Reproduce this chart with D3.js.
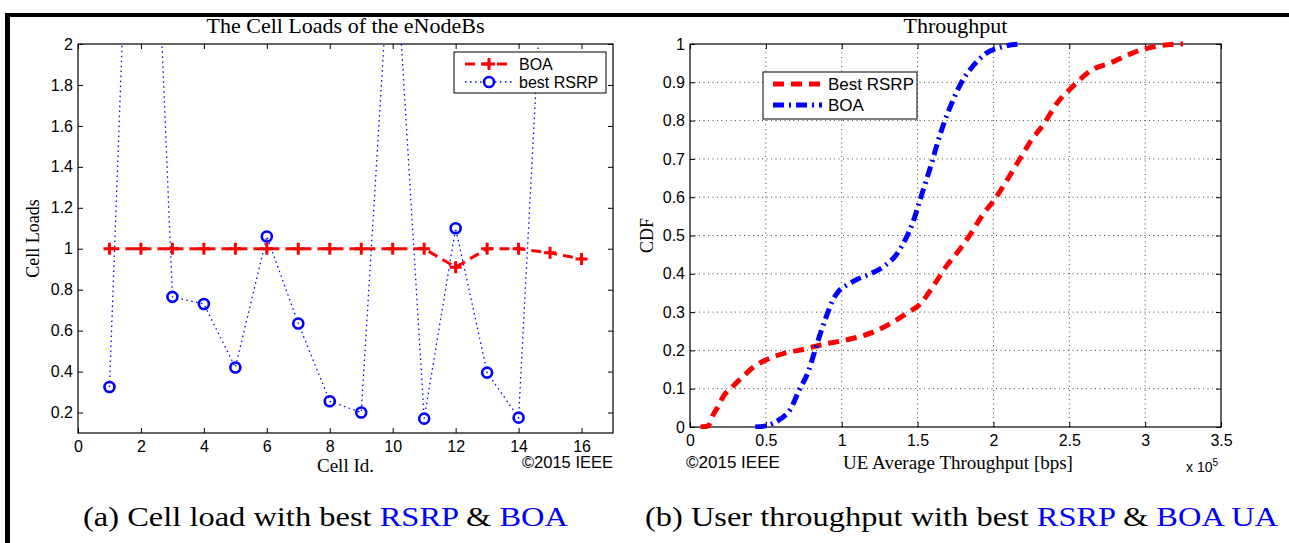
<!DOCTYPE html>
<html><head><meta charset="utf-8">
<script src="https://cdn.jsdelivr.net/npm/d3@7"></script>
<style>
body{margin:0;background:#fff}
svg{display:block}
</style></head><body>
<svg id="fig" width="1289" height="543"></svg>
<script>
// ---- Panel (a): cell load of each eNodeB ----
const cellIds  = [1,2,3,4,5,6,7,8,9,10,11,12,13,14,15,16];
const loadBOA  = [1,1,1,1,1,1,1,1,1,1,1,0.91,1,1,0.98,0.95];
const loadRSRP = [0.325,4.5,0.765,0.73,0.42,1.06,0.635,0.255,0.2,2.7,0.17,1.1,0.395,0.175,3.1,3.2];
const cellTicks = [0,2,4,6,8,10,12,14,16];
const loadTicks = [0.2,0.4,0.6,0.8,1,1.2,1.4,1.6,1.8,2];

// ---- Panel (b): CDF of UE average throughput (x in units of 1e5 bps) ----
const rsrpThr = [0.07,0.12,0.15,0.18,0.22,0.28,0.35,0.42,0.5,0.62,0.75,0.88,1.0,1.12,1.22,1.32,1.43,1.52,1.6,1.69,1.78,1.86,1.93,2.0,2.09,2.17,2.25,2.33,2.42,2.52,2.64,2.78,2.92,3.05,3.15,3.25];
const rsrpCdf = [0,0.003,0.03,0.05,0.08,0.105,0.132,0.157,0.175,0.192,0.203,0.216,0.225,0.236,0.25,0.27,0.297,0.322,0.366,0.42,0.465,0.51,0.555,0.59,0.645,0.697,0.749,0.79,0.846,0.888,0.93,0.952,0.977,0.992,0.998,1.0];
const boaThr  = [0.43,0.5,0.55,0.6,0.66,0.72,0.78,0.82,0.86,0.9,0.94,0.98,1.03,1.1,1.19,1.28,1.36,1.42,1.47,1.51,1.55,1.59,1.63,1.68,1.73,1.79,1.86,1.95,2.05,2.12,2.17];
const boaCdf  = [0,0.003,0.01,0.022,0.045,0.097,0.145,0.195,0.245,0.29,0.33,0.355,0.37,0.385,0.4,0.42,0.45,0.49,0.535,0.585,0.635,0.685,0.74,0.8,0.85,0.9,0.94,0.975,0.992,0.998,1.0];
const thrTicks = [0,0.5,1,1.5,2,2.5,3,3.5];
const cdfTicks = [0,0.1,0.2,0.3,0.4,0.5,0.6,0.7,0.8,0.9,1];

const RED = "#ff0000", BLUE = "#0000ff";
const serif = "'Liberation Serif','Times New Roman',serif";
const sans  = "'Liberation Sans',Arial,sans-serif";

const svg = d3.select("#fig");

// page frame (top rule and left rule)
svg.append("rect").attr("x",5).attr("y",13).attr("width",1284).attr("height",4).attr("fill","#000");
svg.append("rect").attr("x",5).attr("y",13).attr("width",5).attr("height",530).attr("fill","#000");

// boxed axes with inward ticks on all four sides
function boxAxes(g, x, y, xTicks, yTicks) {
  const [x0,x1] = x.range(), [y0,y1] = y.range();
  const fmt = d => String(d);
  const b = g.append("g").attr("transform",`translate(0,${y0})`)
    .call(d3.axisBottom(x).tickValues(xTicks).tickFormat(fmt).tickSizeInner(-5).tickSizeOuter(0).tickPadding(8));
  const l = g.append("g").attr("transform",`translate(${x0},0)`)
    .call(d3.axisLeft(y).tickValues(yTicks).tickFormat(fmt).tickSizeInner(-5).tickSizeOuter(0).tickPadding(5));
  g.append("g").attr("transform",`translate(0,${y1})`)
    .call(d3.axisTop(x).tickValues(xTicks).tickFormat("").tickSizeInner(-5).tickSizeOuter(0));
  g.append("g").attr("transform",`translate(${x1},0)`)
    .call(d3.axisRight(y).tickValues(yTicks).tickFormat("").tickSizeInner(-5).tickSizeOuter(0));
  g.selectAll(".domain").remove();
  g.selectAll(".tick line").attr("stroke","#000").attr("stroke-width",1);
  g.selectAll(".tick text").attr("font-family",sans).attr("font-size",16).attr("fill","#000");
  g.append("rect").attr("x",x0).attr("y",y1).attr("width",x1-x0).attr("height",y0-y1)
    .attr("fill","none").attr("stroke","#000").attr("stroke-width",1.2);
}

// ================= Panel (a) =================
const ga = svg.append("g");
const xa = d3.scaleLinear().domain([0,17]).range([78,613]);
const ya = d3.scaleLinear().domain([0.1,2]).range([433,44]);

svg.append("clipPath").attr("id","clipA").append("rect")
  .attr("x",78).attr("y",44).attr("width",535).attr("height",389);

const dataA = svg.append("g").attr("clip-path","url(#clipA)");
const lineA = d3.line().x(d => xa(d[0])).y(d => ya(d[1]));
const rsrpPts = cellIds.map((c,i) => [c, loadRSRP[i]]);
const boaPts  = cellIds.map((c,i) => [c, loadBOA[i]]);

dataA.append("path").attr("d", lineA(rsrpPts)).attr("fill","none")
  .attr("stroke",BLUE).attr("stroke-width",1.3).attr("stroke-dasharray","1.5,3.5");
dataA.selectAll("circle.rsrp").data(rsrpPts).join("circle").attr("class","rsrp")
  .attr("cx",d => xa(d[0])).attr("cy",d => ya(d[1])).attr("r",5)
  .attr("fill","none").attr("stroke",BLUE).attr("stroke-width",2.6);

dataA.append("path").attr("d", lineA(boaPts)).attr("fill","none")
  .attr("stroke",RED).attr("stroke-width",3).attr("stroke-dasharray","10,6");
const plus = "M-6,0H6M0,-6V6";
dataA.selectAll("path.plus").data(boaPts).join("path").attr("class","plus")
  .attr("d",plus).attr("transform",d => `translate(${xa(d[0])},${ya(d[1])})`)
  .attr("stroke",RED).attr("stroke-width",3);

boxAxes(ga, xa, ya, cellTicks, loadTicks);

// legend (a)
const la = svg.append("g");
la.append("rect").attr("x",454).attr("y",52).attr("width",152).attr("height",41)
  .attr("fill","#fff").attr("stroke","#000").attr("stroke-width",1);
la.append("line").attr("x1",465).attr("x2",513).attr("y1",64).attr("y2",64)
  .attr("stroke",RED).attr("stroke-width",3).attr("stroke-dasharray","10,6");
la.append("path").attr("d",plus).attr("transform","translate(489,64)").attr("stroke",RED).attr("stroke-width",3);
la.append("line").attr("x1",465).attr("x2",513).attr("y1",82).attr("y2",82)
  .attr("stroke",BLUE).attr("stroke-width",1.3).attr("stroke-dasharray","1.5,3.5");
la.append("circle").attr("cx",489).attr("cy",82).attr("r",5).attr("fill","#fff")
  .attr("stroke",BLUE).attr("stroke-width",2.6);
la.append("text").attr("x",519).attr("y",70).text("BOA");
la.append("text").attr("x",519).attr("y",88).text("best RSRP");
la.selectAll("text").attr("font-family",sans).attr("font-size",16);

// titles and labels (a)
svg.append("text").attr("x",345.5).attr("y",33).attr("text-anchor","middle")
  .attr("font-family",serif).attr("font-size",22).text("The Cell Loads of the eNodeBs");
svg.append("text").attr("transform","translate(39,238.5) rotate(-90)").attr("text-anchor","middle")
  .attr("font-family",serif).attr("font-size",18).text("Cell Loads");
svg.append("text").attr("x",345.5).attr("y",472).attr("text-anchor","middle")
  .attr("font-family",serif).attr("font-size",19).text("Cell Id.");
svg.append("text").attr("x",613).attr("y",468).attr("text-anchor","end")
  .attr("font-family",sans).attr("font-size",16.5).text("©2015 IEEE");

// ================= Panel (b) =================
const gb = svg.append("g");
const xb = d3.scaleLinear().domain([0,3.5]).range([690,1221]);
const yb = d3.scaleLinear().domain([0,1]).range([427,44]);

// dotted grid
const grid = gb.append("g").attr("stroke","#333").attr("stroke-width",0.9).attr("stroke-dasharray","1,3.5");
grid.selectAll("line.gx").data(thrTicks.slice(1,-1)).join("line").attr("class","gx")
  .attr("x1",d => xb(d)).attr("x2",d => xb(d)).attr("y1",427).attr("y2",44);
grid.selectAll("line.gy").data(cdfTicks.slice(1,-1)).join("line").attr("class","gy")
  .attr("y1",d => yb(d)).attr("y2",d => yb(d)).attr("x1",690).attr("x2",1221);

svg.append("clipPath").attr("id","clipB").append("rect")
  .attr("x",690).attr("y",40).attr("width",531).attr("height",389);
const dataB = svg.append("g").attr("clip-path","url(#clipB)");
const lineB = d3.line().x(d => xb(d[0])).y(d => yb(d[1])).curve(d3.curveMonotoneX);

dataB.append("path").attr("d", lineB(rsrpThr.map((t,i) => [t, rsrpCdf[i]])))
  .attr("fill","none").attr("stroke",RED).attr("stroke-width",5).attr("stroke-dasharray","11,7");
dataB.append("path").attr("d", lineB(boaThr.map((t,i) => [t, boaCdf[i]])))
  .attr("fill","none").attr("stroke",BLUE).attr("stroke-width",5).attr("stroke-dasharray","11,5,2,5");

boxAxes(gb, xb, yb, thrTicks, cdfTicks);

// legend (b)
const lb = svg.append("g");
lb.append("rect").attr("x",763).attr("y",72).attr("width",154).attr("height",47)
  .attr("fill","#fff").attr("stroke","#000").attr("stroke-width",1);
lb.append("line").attr("x1",773).attr("x2",822).attr("y1",84).attr("y2",84)
  .attr("stroke",RED).attr("stroke-width",5).attr("stroke-dasharray","11,7");
lb.append("line").attr("x1",773).attr("x2",822).attr("y1",105).attr("y2",105)
  .attr("stroke",BLUE).attr("stroke-width",5).attr("stroke-dasharray","11,5,2,5");
lb.append("text").attr("x",828).attr("y",90).text("Best RSRP");
lb.append("text").attr("x",828).attr("y",111).text("BOA");
lb.selectAll("text").attr("font-family",sans).attr("font-size",17);

// titles and labels (b)
svg.append("text").attr("x",955.5).attr("y",33).attr("text-anchor","middle")
  .attr("font-family",serif).attr("font-size",22).text("Throughput");
svg.append("text").attr("transform","translate(653,235.5) rotate(-90)").attr("text-anchor","middle")
  .attr("font-family",serif).attr("font-size",18).text("CDF");
svg.append("text").attr("x",958).attr("y",469).attr("text-anchor","middle")
  .attr("font-family",serif).attr("font-size",19).text("UE Average Throughput [bps]");
svg.append("text").attr("x",686).attr("y",468)
  .attr("font-family",sans).attr("font-size",17).text("©2015 IEEE");
const mult = svg.append("text").attr("x",1186).attr("y",472).attr("font-family",sans).attr("font-size",14);
mult.append("tspan").text("x 10");
mult.append("tspan").attr("dy",-6).attr("font-size",10).text("5");

// ================= captions =================
function caption(x, width, parts) {
  const t = svg.append("text").attr("x",x).attr("y",526)
    .attr("font-family",serif).attr("font-size",27)
    .attr("textLength",width).attr("lengthAdjust","spacingAndGlyphs");
  parts.forEach(p => t.append("tspan").attr("fill",p[1]).text(p[0]));
}
caption(83, 485, [["(a) Cell load with best ","#000"],["RSRP",BLUE],[" & ","#000"],["BOA",BLUE]]);
caption(645, 633, [["(b) User throughput with best ","#000"],["RSRP",BLUE],[" & ","#000"],["BOA UA",BLUE]]);
</script>
</body></html>
